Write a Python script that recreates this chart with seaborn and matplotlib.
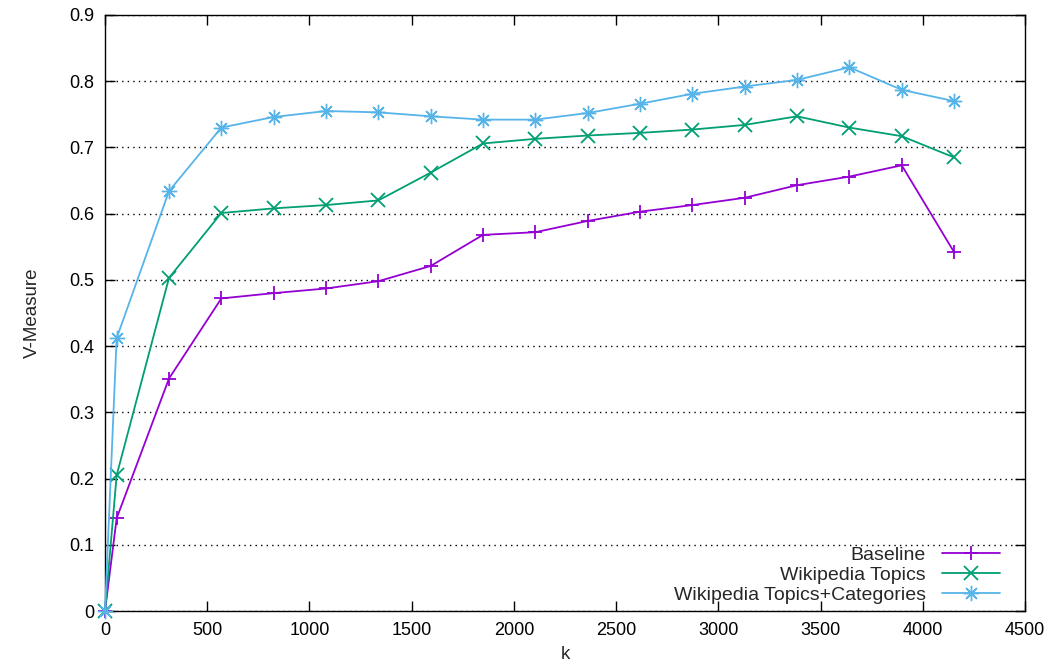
import matplotlib
matplotlib.use("Agg")
import matplotlib.pyplot as plt
import seaborn as sns
import pandas as pd
from matplotlib.ticker import FuncFormatter, MultipleLocator

k_values = [0, 57, 313, 569, 825, 1081, 1337, 1593, 1849, 2105, 2361,
            2617, 2873, 3129, 3385, 3641, 3897, 4153]
baseline = [0.0, 0.140, 0.351, 0.472, 0.480, 0.487, 0.498, 0.521, 0.568,
            0.572, 0.589, 0.603, 0.613, 0.624, 0.643, 0.656, 0.673, 0.542]
wiki_topics = [0.0, 0.205, 0.503, 0.601, 0.608, 0.613, 0.620, 0.662, 0.706,
               0.713, 0.718, 0.722, 0.727, 0.734, 0.747, 0.730, 0.717, 0.685]
wiki_topics_cats = [0.0, 0.412, 0.634, 0.730, 0.746, 0.755, 0.753, 0.747, 0.742,
                    0.742, 0.752, 0.766, 0.781, 0.792, 0.802, 0.821, 0.787, 0.770]
series_names = ["Baseline", "Wikipedia Topics", "Wikipedia Topics+Categories"]
x_ticks = [0, 500, 1000, 1500, 2000, 2500, 3000, 3500, 4000, 4500]

sns.set_style("ticks")
plt.rcParams['font.family'] = ['Liberation Sans', 'DejaVu Sans']

colors = ["#9400d3", "#009e73", "#56b4e9"]
markers = ["+", "x", (8, 2, 0)]
msizes = [10, 10, 11]
mwidths = [1.3, 1.3, 1.0]
values = [baseline, wiki_topics, wiki_topics_cats]

fig = plt.figure(figsize=(10.55, 6.69), dpi=100)
ax = fig.add_axes([105/1055, 1 - 611/669, 920/1055, 596/669])

for name, vals, c, m, ms, mw in zip(series_names, values, colors, markers, msizes, mwidths):
    df = pd.DataFrame({"k": k_values, "v": vals})
    sns.lineplot(data=df, x="k", y="v", ax=ax, color=c, marker=m,
                 markersize=ms, markeredgewidth=mw, markeredgecolor=c,
                 linewidth=1.3, label=name, clip_on=False, zorder=3)

ax.set_xlim(0, 4500)
ax.set_ylim(0, 0.9)
ax.set_xticks(x_ticks)
ax.yaxis.set_major_locator(MultipleLocator(0.1))
ax.yaxis.set_major_formatter(FuncFormatter(lambda v, p: "0" if abs(v) < 1e-9 else f"{v:.1f}"))
ax.tick_params(direction="in", length=7, width=1, top=True, right=True,
               labelsize=13, colors="black", pad=8)
ax.yaxis.grid(True, linestyle=(0, (1, 3)), color="black", linewidth=1.0)
ax.xaxis.grid(False)
for s in ax.spines.values():
    s.set_visible(True)
    s.set_linewidth(1.0)
    s.set_color("black")

ax.set_xlabel("k", fontsize=13.5, labelpad=5)
ax.set_ylabel("V-Measure", fontsize=13.5, labelpad=20)

leg = ax.legend(loc="lower right", bbox_to_anchor=(1 - 25/920, 7/596),
                frameon=False, markerfirst=False, fontsize=14,
                handlelength=3.0, labelspacing=0.12, handletextpad=0.8,
                borderaxespad=0, borderpad=0)

fig.savefig("out.png", dpi=100)
